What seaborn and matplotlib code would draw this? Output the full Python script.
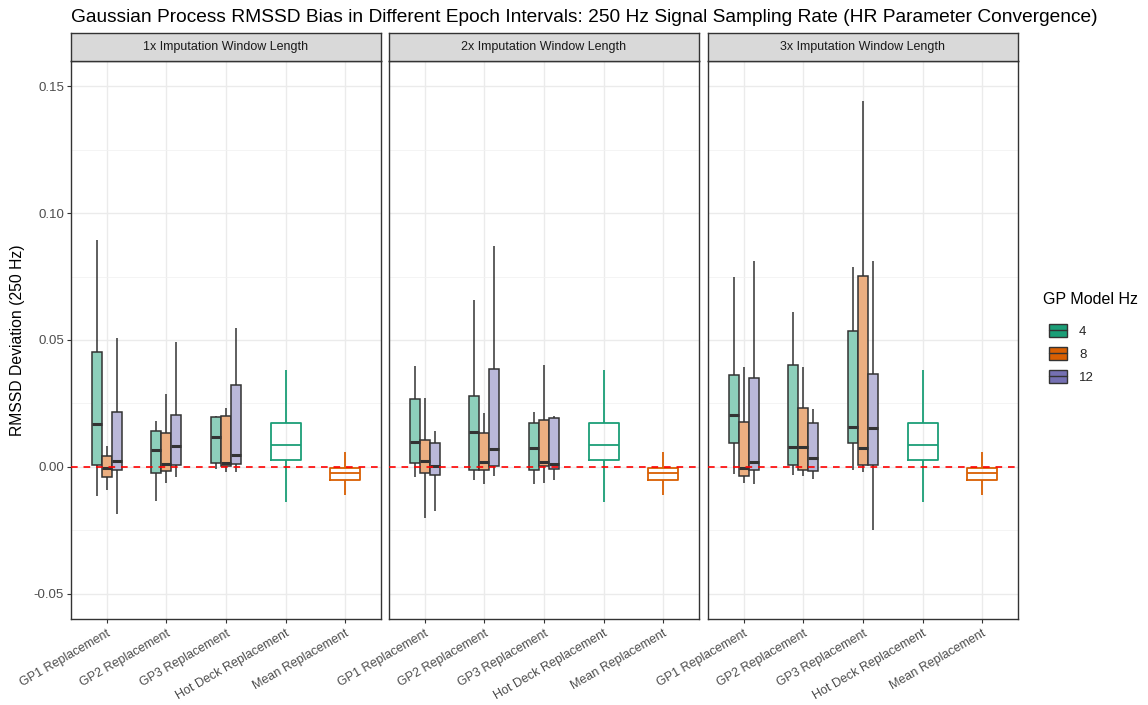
import numpy as np
import pandas as pd
import matplotlib
matplotlib.use("Agg")
import matplotlib.pyplot as plt
import seaborn as sns
from matplotlib.patches import Patch
from matplotlib.lines import Line2D
from matplotlib.legend_handler import HandlerTuple

# ---------------- data (five-number summaries: min, q1, median, q3, max) ----------------
panels = ["1x Imputation Window Length", "2x Imputation Window Length", "3x Imputation Window Length"]
methods = ["GP1 Replacement", "GP2 Replacement", "GP3 Replacement",
           "Hot Deck Replacement", "Mean Replacement"]
gp_methods = ["GP1 Replacement", "GP2 Replacement", "GP3 Replacement"]
gp_hz = ["4", "8", "12"]

# 1x window: rows = GP1, GP2, GP3
w1_hz4 = [[-0.0117, 0.0009, 0.0167, 0.0453, 0.0895],
          [-0.0134, -0.0023, 0.0065, 0.0142, 0.0182],
          [-0.0009, 0.0017, 0.0116, 0.0197, 0.0200]]
w1_hz8 = [[-0.0090, -0.0039, -0.0006, 0.0041, 0.0084],
          [-0.0062, -0.0018, 0.0012, 0.0134, 0.0288],
          [-0.0020, 0.0003, 0.0017, 0.0200, 0.0232]]
w1_hz12 = [[-0.0187, -0.0012, 0.0023, 0.0218, 0.0509],
           [-0.0042, 0.0008, 0.0083, 0.0206, 0.0492],
           [-0.0020, 0.0012, 0.0048, 0.0322, 0.0547]]
# 2x window
w2_hz4 = [[-0.0041, 0.0017, 0.0096, 0.0268, 0.0396],
          [-0.0053, -0.0012, 0.0136, 0.0279, 0.0658],
          [-0.0068, -0.0014, 0.0075, 0.0172, 0.0215]]
w2_hz8 = [[-0.0203, -0.0026, 0.0023, 0.0107, 0.0270],
          [-0.0068, -0.0012, 0.0018, 0.0133, 0.0212],
          [-0.0062, 0.0003, 0.0018, 0.0184, 0.0402]]
w2_hz12 = [[-0.0176, -0.0032, 0.0005, 0.0092, 0.0142],
           [-0.0038, 0.0005, 0.0069, 0.0387, 0.0869],
           [-0.0051, -0.0008, 0.0011, 0.0193, 0.0199]]
# 3x window
w3_hz4 = [[-0.0027, 0.0092, 0.0206, 0.0363, 0.0748],
          [-0.0033, 0.0008, 0.0080, 0.0402, 0.0610],
          [-0.0012, 0.0092, 0.0158, 0.0535, 0.0789]]
w3_hz8 = [[-0.0062, -0.0038, -0.0005, 0.0178, 0.0393],
          [-0.0036, -0.0014, 0.0077, 0.0232, 0.0393],
          [-0.0020, 0.0008, 0.0075, 0.0752, 0.1443]]
w3_hz12 = [[-0.0066, -0.0014, 0.0020, 0.0352, 0.0812],
           [-0.0047, -0.0017, 0.0035, 0.0172, 0.0227],
           [-0.0250, 0.0008, 0.0152, 0.0367, 0.0812]]

hot_deck = [-0.0137, 0.0026, 0.0086, 0.0172, 0.0381]
mean_rep = [-0.0111, -0.0051, -0.0024, -0.0006, 0.0057]

y_ticks = [-0.05, 0.00, 0.05, 0.10, 0.15]
y_tick_labels = ["-0.05", "0.00", "0.05", "0.10", "0.15"]

# ---------------- build long table ----------------
gp_tables = {
    panels[0]: {"4": w1_hz4, "8": w1_hz8, "12": w1_hz12},
    panels[1]: {"4": w2_hz4, "8": w2_hz8, "12": w2_hz12},
    panels[2]: {"4": w3_hz4, "8": w3_hz8, "12": w3_hz12},
}
rows = []
for p in panels:
    for hz in gp_hz:
        for m, vals in zip(gp_methods, gp_tables[p][hz]):
            for v in vals:
                rows.append((p, m, hz, v))
    for v in hot_deck:
        rows.append((p, "Hot Deck Replacement", "none", v))
    for v in mean_rep:
        rows.append((p, "Mean Replacement", "none", v))
df = pd.DataFrame(rows, columns=["panel", "method", "hz", "value"])

# ---------------- style ----------------
sns.set_style("white")
plt.rcParams["font.family"] = ["Liberation Sans", "DejaVu Sans"]

dark = ["#1B9E77", "#D95F02", "#7570B3"]
def lighten(c, a=0.5):
    r, g, b = matplotlib.colors.to_rgb(c)
    return (1 - a + a * r, 1 - a + a * g, 1 - a + a * b)
fill_pal = {hz: lighten(c) for hz, c in zip(gp_hz, dark)}
other_pal = {"Hot Deck Replacement": dark[0], "Mean Replacement": dark[1]}

W, H = 1148, 705
fig = plt.figure(figsize=(W / 100, H / 100), dpi=100)
lefts = [71, 389, 708]
pw = 310
ptop, pbot = 61, 619
strip_top = 33

grey20 = "#333333"
grey30 = "#4D4D4D"
for i, (p, L) in enumerate(zip(panels, lefts)):
    ax = fig.add_axes([L / W, 1 - pbot / H, pw / W, (pbot - ptop) / H])
    d = df[df.panel == p]
    gp = d[d.hz != "none"]
    other = d[d.hz == "none"]
    sns.boxplot(data=gp, x="method", y="value", hue="hz", order=methods,
                hue_order=gp_hz, palette=fill_pal, width=0.5, gap=0,
                whis=(0, 100), showcaps=False, saturation=1,
                linecolor=grey20, linewidth=1.1,
                medianprops=dict(linewidth=2.2), legend=False, ax=ax)
    sns.boxplot(data=other, x="method", y="value", hue="method", order=methods,
                palette=other_pal, fill=False, width=0.5, whis=(0, 100),
                showcaps=False, linewidth=1.3, legend=False, ax=ax)
    ax.axhline(0, color="#FF0000", ls=(0, (4, 3.5)), lw=1.2, zorder=10)
    ax.set_xlim(-0.6, 4.6)
    ax.set_ylim(-0.06, 0.16)
    ax.set_yticks(y_ticks)
    ax.set_yticks([-0.025, 0.025, 0.075, 0.125], minor=True)
    ax.grid(True, which="major", color="#EBEBEB", lw=1.0)
    ax.grid(True, which="minor", axis="y", color="#F2F2F2", lw=0.6)
    ax.set_axisbelow(True)
    ax.set_xlabel("")
    ax.set_ylabel("")
    ax.set_xticks(range(len(methods)))
    ax.set_xticklabels(methods, rotation=30, ha="right", rotation_mode="anchor",
                       fontsize=9.0, color=grey30)
    if i == 0:
        ax.set_yticklabels(y_tick_labels, fontsize=9.5, color=grey30)
        ax.tick_params(axis="y", which="major", length=3, width=0.8, color=grey20,
                       left=True, pad=2)
    else:
        ax.tick_params(axis="y", which="both", left=False, labelleft=False)
    ax.tick_params(axis="y", which="minor", left=False)
    ax.tick_params(axis="x", length=3, width=0.8, color=grey20, bottom=True, pad=3)
    for s in ax.spines.values():
        s.set_color(grey20)
        s.set_linewidth(1.0)
    # facet strip
    sax = fig.add_axes([L / W, 1 - ptop / H, pw / W, (ptop - strip_top) / H])
    sax.set_facecolor("#D9D9D9")
    sax.set_xticks([]); sax.set_yticks([])
    for s in sax.spines.values():
        s.set_color(grey20)
        s.set_linewidth(1.0)
    sax.text(0.5, 0.5, p, ha="center", va="center", fontsize=9.0, color="#1A1A1A",
             transform=sax.transAxes)

fig.text(71 / W, 1 - 17 / H,
         "Gaussian Process RMSSD Bias in Different Epoch Intervals: 250 Hz Signal Sampling Rate (HR Parameter Convergence)",
         ha="left", va="center", fontsize=13.8, color="black")
fig.text(18 / W, 1 - (ptop + pbot) / 2 / H, "RMSSD Deviation (250 Hz)", rotation=90,
         ha="center", va="center", fontsize=11.3, color="black")

# legend
fig.text(1043 / W, 1 - 300 / H, "GP Model Hz", ha="left", va="center",
         fontsize=11.5, color="black")
handles = [(Patch(facecolor=c, edgecolor=grey20, linewidth=1.0),
            Line2D([], [], color=grey20, lw=1.0)) for c in dark]
leg = fig.legend(handles=handles, labels=gp_hz, loc="upper left",
                 bbox_to_anchor=(1040 / W, 1 - 315 / H), frameon=False,
                 fontsize=9.5, handlelength=1.35, handleheight=1.15,
                 labelspacing=0.68, handletextpad=0.9, borderpad=0.2,
                 handler_map={tuple: HandlerTuple(ndivide=1, pad=0)})

fig.savefig("out.png", dpi=100)
